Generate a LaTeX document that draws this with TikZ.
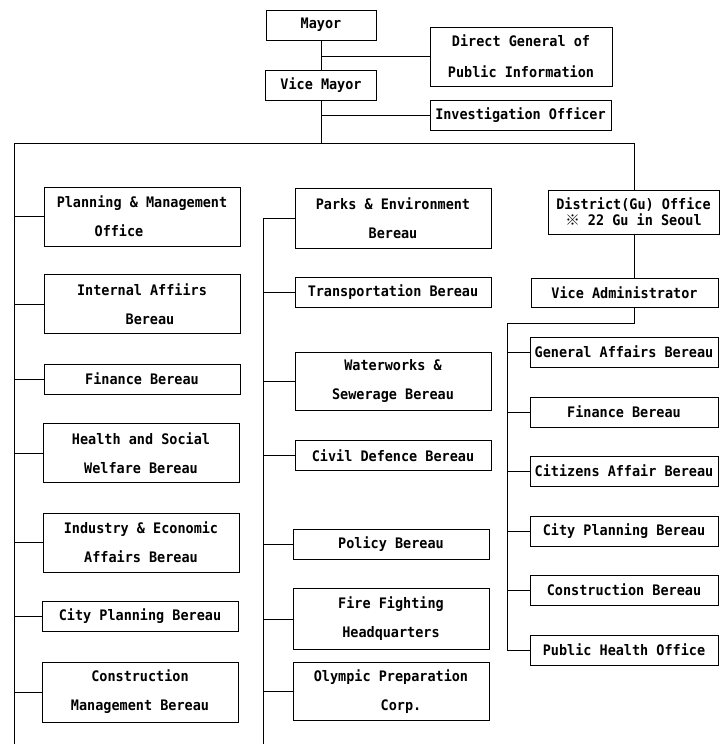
\documentclass[tikz,border=0pt]{standalone}
\usepackage{fontspec}
\newfontfamily\boxfont{DejaVu Sans Mono}[FakeStretch=0.93]
\newfontfamily\cjk{Noto Sans CJK SC}
\begin{document}
\begin{tikzpicture}[x=1pt,y=-1pt,
  box/.style={draw, line width=1pt, inner sep=0pt, align=center,
    font=\boxfont\bfseries\fontsize{14.5}{16}\selectfont},
  one/.style={minimum height=30pt},
  two/.style={minimum height=59pt},
  lcol/.style={box, minimum width=196pt},
  rcol/.style={box, minimum width=188pt, one},
  link/.style={line width=0.9pt}]
\useasboundingbox (0,0) rectangle (720,744);

% top
\node[box, one, minimum width=110pt] (mayor) at (321,25) {Mayor};
\node[box, two, minimum width=182pt] (dgpi) at (521,56.5) {Direct General of\\[15pt]Public Information};
\node[box, one, minimum width=111pt] (vmayor) at (321,85) {Vice Mayor};
\node[box, one, minimum width=181pt] (invest) at (520.5,115) {Investigation Officer};

\coordinate (bus) at (321,143);
\coordinate (busL) at (14,143);
\coordinate (busR) at (634,143);
\coordinate (lbot) at (14,744);
\coordinate (mbot) at (263,744);

% left column
\node[lcol, two] (pmo) at (142,216.5) {Planning \& Management\\[13pt]Office\hspace*{46pt}};
\node[lcol, two] (iab) at (142,304) {Internal Affiirs\\[13pt]\hspace*{16pt}Bereau};
\node[lcol, one] (fin) at (142,379) {Finance Bereau};
\node[lcol, two] (hsw) at (141,453) {Health and Social\\[13pt]Welfare Bereau};
\node[lcol, two] (iea) at (141,542.5) {Industry \& Economic\\[13pt]Affairs Bereau};
\node[lcol, one] (cpb) at (140,616) {City Planning Bereau};
\node[lcol, two, minimum height=60pt] (cmb) at (140,692) {Construction\\[13pt]Management Bereau};

% middle column
\node[lcol, two, minimum height=60pt] (parks) at (393,218) {Parks \& Environment\\[13pt]Bereau};
\node[lcol, one] (trans) at (393,292) {Transportation Bereau};
\node[lcol, two, minimum height=58pt] (water) at (393,381) {Waterworks \&\\[13pt]Sewerage Bereau};
\node[lcol, one] (civil) at (393,455.5) {Civil Defence Bereau};
\node[lcol, one] (policy) at (391,544.5) {Policy Bereau};
\node[lcol, two, minimum height=61pt] (fire) at (391,619) {Fire Fighting\\[13pt]Headquarters};
\node[lcol, two, minimum height=58pt] (olympic) at (391,691.5) {Olympic Preparation\\[13pt]\hspace*{20pt}Corp.};

% right column
\node[box, minimum width=171pt, minimum height=44pt] (district) at (633.5,212) {District(Gu) Office\\{\cjk ※} 22 Gu in Seoul};
\node[box, minimum width=187pt, minimum height=29pt] (vadmin) at (624.5,292.5) {Vice Administrator};
\node[rcol] (gab) at (624,352) {General Affairs Bereau};
\node[rcol] (fin2) at (624,412) {Finance Bereau};
\node[rcol] (cab) at (624,471) {Citizens Affair Bereau};
\node[rcol] (cpb2) at (624,531) {City Planning Bereau};
\node[rcol] (cb) at (624,590) {Construction Bereau};
\node[rcol] (pho) at (624,650) {Public Health Office};

\coordinate (rj) at (634,323);
\coordinate (rs) at (507,323);

% connectors
\draw[link] (mayor.south) -- (vmayor.north);
\draw[link] (mayor.south |- dgpi.west) -- (dgpi.west);
\draw[link] (vmayor.south) -- (bus);
\draw[link] (bus |- invest.west) -- (invest.west);
\draw[link] (busL) -- (busR) -- (busR |- district.north);
\draw[link] (busL) -- (lbot);
\foreach \n in {pmo,iab,fin,hsw,iea,cpb,cmb}
  \draw[link] (\n.west) -- (\n.west -| busL);
\draw[link] (parks.west -| mbot) -- (mbot);
\foreach \n in {parks,trans,water,civil,policy,fire,olympic}
  \draw[link] (\n.west) -- (\n.west -| mbot);
\draw[link] (district.south -| busR) -- (busR |- vadmin.north);
\draw[link] (vadmin.south -| busR) -- (rj) -- (rs) -- (rs |- pho.west);
\foreach \n in {gab,fin2,cab,cpb2,cb,pho}
  \draw[link] (\n.west) -- (\n.west -| rs);
\end{tikzpicture}
\end{document}
